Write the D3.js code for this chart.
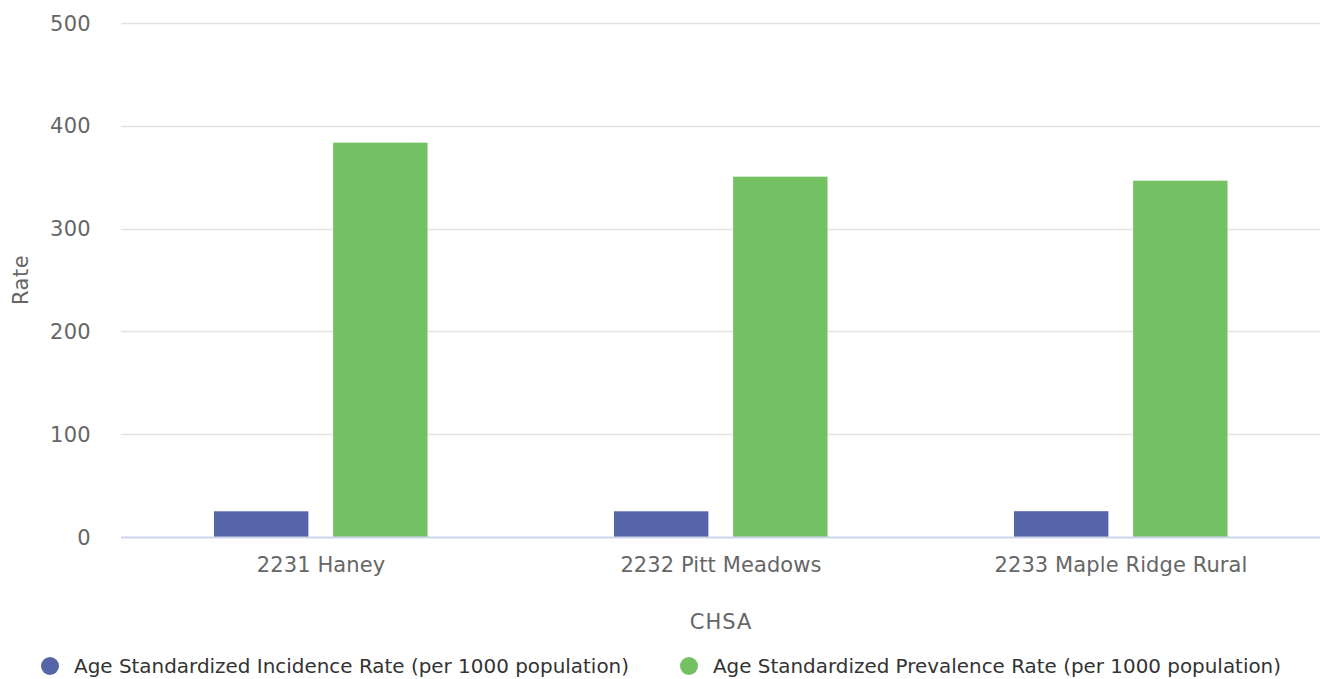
<!DOCTYPE html>
<html>
<head>
<meta charset="utf-8">
<script src="https://cdn.jsdelivr.net/npm/d3@7"></script>
<style>
  html, body { margin: 0; padding: 0; background: #fff; }
  svg { display: block; font-family: "DejaVu Sans", Verdana, sans-serif; }
</style>
</head>
<body>
<svg id="chart" width="1320" height="679"></svg>
<script>
const categories = ["2231 Haney", "2232 Pitt Meadows", "2233 Maple Ridge Rural"];
const seriesNames = ["Age Standardized Incidence Rate (per 1000 population)", "Age Standardized Prevalence Rate (per 1000 population)"];
const incidence = [25.0, 25.0, 25.1];
const prevalence = [383.6, 350.5, 346.6];
const yTicks = [0, 100, 200, 300, 400, 500];
const colors = ["#5565a7", "#74c163"];

(function () {
const svg = d3.select("#chart");
const plotLeft = 121, plotRight = 1321, plotTop = 23, plotBottom = 537;

const x0 = d3.scaleBand().domain(categories).range([plotLeft, plotRight]).paddingInner(0).paddingOuter(0);
const x1 = d3.scaleBand().domain([0, 1]).range([93, 306.5]).paddingInner(0.2076).paddingOuter(0);
const y = d3.scaleLinear().domain([0, 500]).range([plotBottom, plotTop]);

// gridlines
svg.append("g").selectAll("line").data(yTicks.filter(t => t > 0)).join("line")
  .attr("x1", plotLeft).attr("x2", plotRight)
  .attr("y1", d => Math.round(y(d)) + 0.5).attr("y2", d => Math.round(y(d)) + 0.5)
  .attr("stroke", "#e3e3e3").attr("stroke-width", 1.3);

// y labels
svg.append("g").selectAll("text").data(yTicks).join("text")
  .attr("x", 91).attr("y", d => y(d) + 7.5)
  .attr("text-anchor", "end")
  .attr("fill", "#666666").attr("font-size", 21).attr("letter-spacing", 0.3)
  .text(d => d);

// bars
const data = categories.map((c, i) => ({cat: c, vals: [incidence[i], prevalence[i]]}));
const groups = svg.append("g").selectAll("g").data(data).join("g")
  .attr("transform", d => `translate(${x0(d.cat)},0)`);
groups.selectAll("rect").data(d => d.vals.map((v, j) => ({v, j}))).join("rect")
  .attr("x", d => x1(d.j)).attr("width", x1.bandwidth())
  .attr("y", d => y(d.v)).attr("height", d => y(0) - y(d.v))
  .attr("fill", d => colors[d.j]);

// x axis line
svg.append("line").attr("x1", plotLeft).attr("x2", plotRight)
  .attr("y1", plotBottom + 0.5).attr("y2", plotBottom + 0.5)
  .attr("stroke", "#ccd6eb").attr("stroke-width", 2);

// x labels
svg.append("g").selectAll("text").data(categories).join("text")
  .attr("x", d => x0(d) + x0.bandwidth() / 2).attr("y", 571.5)
  .attr("text-anchor", "middle")
  .attr("fill", "#666666").attr("font-size", 21).attr("letter-spacing", 0.1)
  .text(d => d);

// axis titles
svg.append("text").attr("x", 721).attr("y", 628.5).attr("text-anchor", "middle")
  .attr("fill", "#666666").attr("font-size", 21).attr("letter-spacing", 1).text("CHSA");
svg.append("text").attr("transform", "translate(27.5,280) rotate(-90)").attr("text-anchor", "middle")
  .attr("fill", "#666666").attr("font-size", 21).attr("letter-spacing", 0.5).text("Rate");

// legend
const legendX = [50, 689];
const legendW = [555, 568];
const lg = svg.append("g").selectAll("g").data(seriesNames).join("g")
  .attr("transform", (d, i) => `translate(${legendX[i]},666)`);
lg.append("circle").attr("r", 9).attr("fill", (d, i) => colors[i]);
lg.append("text").attr("x", 24).attr("y", 6.5)
  .attr("fill", "#333333").attr("font-size", 20)
  .attr("textLength", (d, i) => legendW[i]).attr("lengthAdjust", "spacingAndGlyphs")
  .text(d => d);
})();
</script>
</body>
</html>
